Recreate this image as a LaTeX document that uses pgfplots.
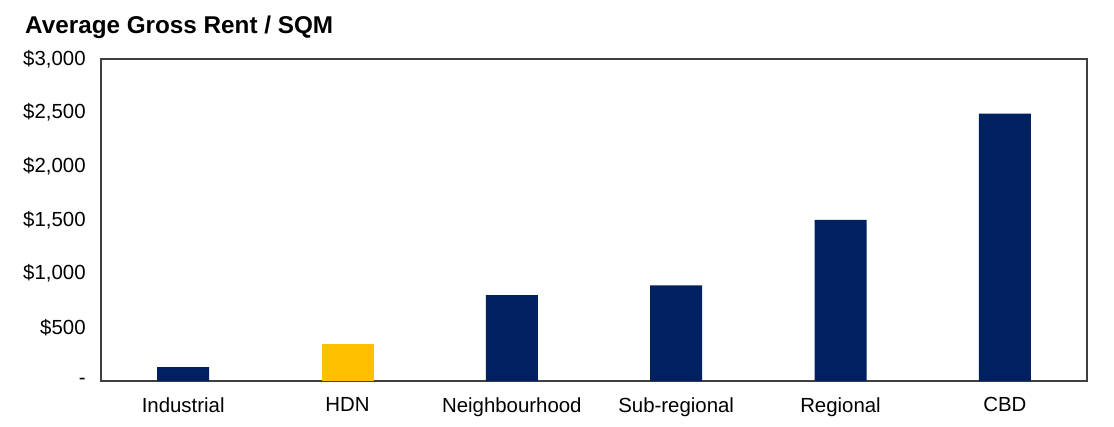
\documentclass[border=0pt]{standalone}
\usepackage{pgfplots}
\pgfplotsset{compat=1.18}
\usepackage{fontspec}
\setmainfont{Liberation Sans}
\definecolor{navy}{HTML}{002060}
\definecolor{gold}{HTML}{FFC000}
\definecolor{axisgray}{HTML}{404040}
\begin{document}
\begin{tikzpicture}
\begin{axis}[
  scale only axis,
  width=739.5pt, height=241.5pt,
  xmin=-0.5, xmax=5.5,
  ymin=0, ymax=3000,
  xtick={0,1,2,3,4,5},
  xticklabels={Industrial,HDN,Neighbourhood,Sub-regional,Regional,CBD},
  ytick={0,500,1000,1500,2000,2500,3000},
  yticklabels={-,{\$500},{\$1,000},{\$1,500},{\$2,000},{\$2,500},{\$3,000}},
  major tick length=0pt,
  tick label style={font=\fontsize{15.3}{18}\selectfont},
  yticklabel style={xshift=-8pt},
  xticklabel style={yshift=-9pt},
  axis line style={axisgray, line width=1pt},
  ybar, bar width=39pt, bar shift=0pt,
  clip=false,
]
\addplot[fill=navy, draw=none] coordinates {(0,130) (2,800) (3,890) (4,1500) (5,2490)};
\addplot[fill=gold, draw=none] coordinates {(1,345)};
\node[anchor=west, inner sep=0pt, font=\bfseries\fontsize{18.2}{21}\selectfont] at (axis description cs:-0.0771,1.1) {Average Gross Rent / SQM};
\useasboundingbox (axis description cs:-0.10243,-0.14286) rectangle (axis description cs:1.02738,1.18323);
\end{axis}
\end{tikzpicture}
\end{document}
